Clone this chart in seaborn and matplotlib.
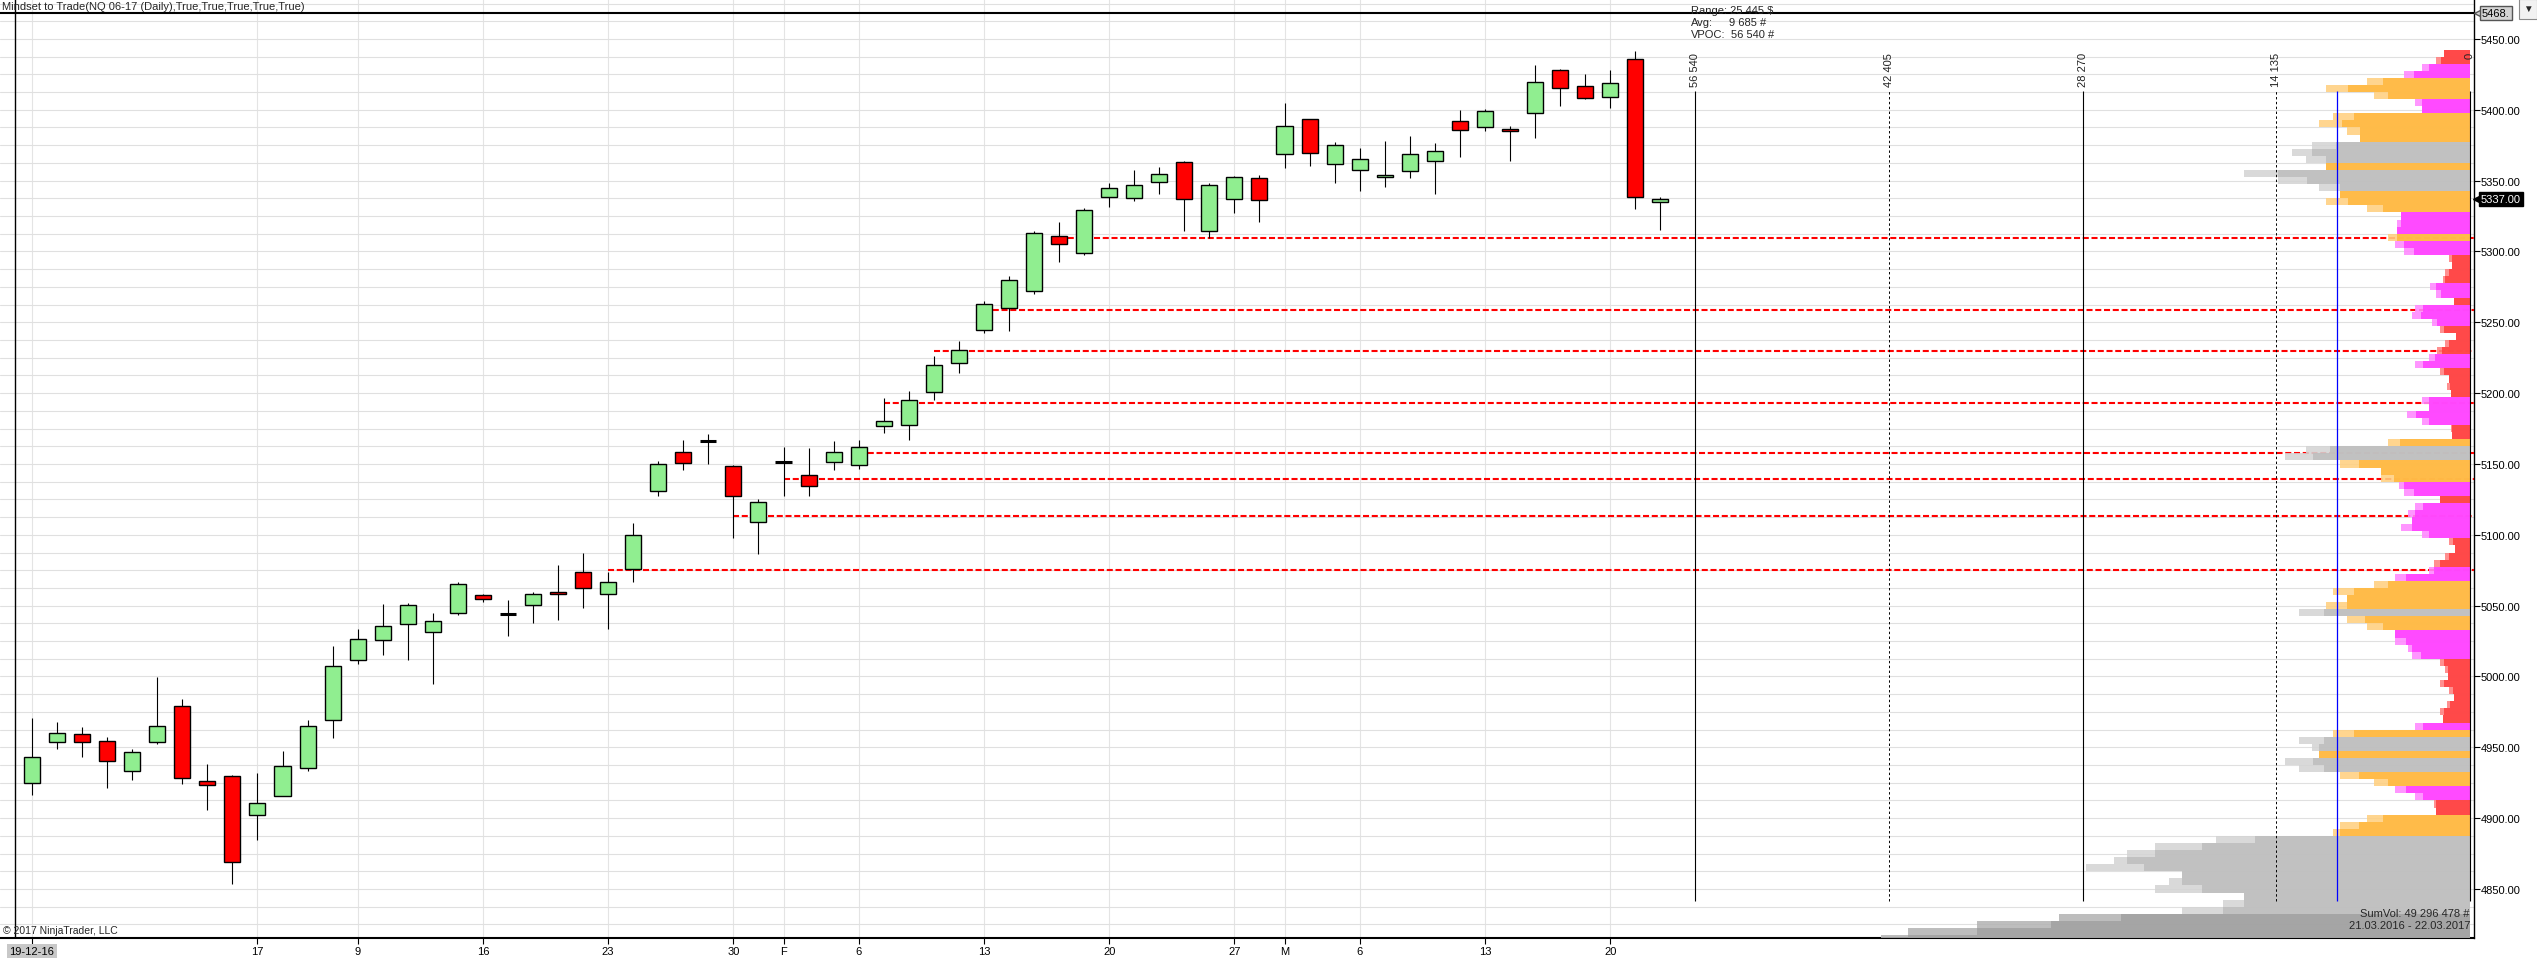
import numpy as np
import pandas as pd
import matplotlib
matplotlib.use('Agg')
import matplotlib.pyplot as plt
from matplotlib.ticker import MultipleLocator, FormatStrFormatter
from matplotlib.patches import Rectangle
import seaborn as sns

# ---------------- data ----------------
# daily session dates (no bar on the two holidays)
skip_days = ['2016-12-26', '2017-01-02']
dates = pd.bdate_range('2016-12-19', '2017-03-22').drop(pd.to_datetime(skip_days))

opens = [4925.0, 4953.9, 4959.6, 4954.6, 4933.5, 4953.9, 4979.3, 4926.4, 4930.0, 4902.5,
         4915.9, 4935.6, 4969.4, 5011.7, 5025.8, 5037.1, 5031.5, 5044.5, 5057.2, 5044.1,
         5050.6, 5059.3, 5073.4, 5057.9, 5076.2, 5131.1, 5158.5, 5166.0, 5148.6, 5109.2,
         5151.2, 5142.3, 5151.5, 5149.3, 5176.6, 5177.3, 5200.5, 5221.6, 5244.9, 5260.3,
         5272.3, 5311.0, 5299.0, 5338.4, 5337.7, 5349.0, 5363.0, 5314.5, 5337.0, 5351.8,
         5369.1, 5393.7, 5361.4, 5357.8, 5352.9, 5357.1, 5364.2, 5392.3, 5388.1, 5386.7,
         5397.9, 5428.2, 5416.9, 5409.2, 5435.9, 5334.6]
highs = [4970.4, 4967.6, 4964.0, 4957.0, 4948.5, 4999.3, 4983.8, 4938.0, 4930.7, 4931.6,
         4947.1, 4969.0, 5021.8, 5033.8, 5051.5, 5052.2, 5045.1, 5067.0, 5058.1, 5053.9,
         5059.5, 5078.5, 5087.0, 5073.4, 5108.1, 5152.4, 5167.2, 5171.4, 5149.3, 5125.0,
         5162.2, 5161.5, 5166.5, 5167.2, 5196.5, 5201.2, 5226.0, 5236.6, 5265.3, 5282.4,
         5314.7, 5321.1, 5330.7, 5348.5, 5357.6, 5359.8, 5364.0, 5348.5, 5353.2, 5354.1,
         5404.7, 5393.7, 5377.5, 5373.3, 5378.2, 5381.8, 5376.8, 5399.6, 5400.3, 5388.8,
         5431.9, 5428.9, 5425.6, 5428.4, 5441.8, 5338.1]
lows = [4916.3, 4948.8, 4943.1, 4921.3, 4926.9, 4952.3, 4924.1, 4905.6, 4853.6, 4884.6,
        4915.9, 4933.3, 4956.5, 5008.7, 5015.0, 5011.7, 4994.5, 5043.6, 5052.7, 5028.8,
        5038.0, 5040.1, 5048.5, 5033.7, 5066.8, 5127.3, 5145.6, 5149.8, 5097.8, 5086.5,
        5127.1, 5127.1, 5145.8, 5146.1, 5172.2, 5167.2, 5195.4, 5214.4, 5242.5, 5243.9,
        5270.2, 5292.5, 5297.4, 5331.1, 5335.4, 5340.3, 5314.3, 5309.8, 5326.9, 5320.6,
        5359.0, 5360.4, 5348.5, 5342.8, 5345.6, 5352.0, 5340.7, 5366.8, 5385.0, 5363.9,
        5380.1, 5402.6, 5407.3, 5401.2, 5330.2, 5315.4]
closes = [4943.1, 4960.3, 4953.9, 4940.5, 4946.9, 4965.2, 4928.6, 4923.6, 4869.3, 4910.9,
          4937.0, 4965.2, 5007.5, 5026.5, 5035.7, 5050.5, 5039.0, 5065.6, 5054.4, 5044.1,
          5057.9, 5057.9, 5062.8, 5067.0, 5100.1, 5150.1, 5150.8, 5166.0, 5127.5, 5123.3,
          5151.2, 5134.6, 5158.5, 5162.0, 5180.1, 5195.4, 5219.8, 5230.5, 5263.1, 5280.0,
          5313.1, 5305.4, 5329.3, 5344.7, 5346.9, 5354.6, 5337.0, 5346.9, 5352.5, 5336.3,
          5388.8, 5369.8, 5375.4, 5365.6, 5354.3, 5369.1, 5371.2, 5386.0, 5399.3, 5385.3,
          5419.7, 5415.5, 5408.5, 5419.0, 5338.1, 5337.0]

tick_dates = ['2016-12-19', '2017-01-03', '2017-01-09', '2017-01-16', '2017-01-23',
              '2017-01-30', '2017-02-01', '2017-02-06', '2017-02-13', '2017-02-20',
              '2017-02-27', '2017-03-01', '2017-03-06', '2017-03-13', '2017-03-20']
tick_labels = ['19-12-16', '17', '9', '16', '23', '30', 'F', '6', '13', '20',
               '27', 'M', '6', '13', '20']

# open gap levels (red dashed) and the bar each one starts from
gap_levels = [5075.0, 5113.5, 5139.5, 5157.75, 5192.75, 5229.5, 5258.5, 5309.25]
gap_start_dates = ['2017-01-23', '2017-01-30', '2017-02-01', '2017-02-06',
                   '2017-02-07', '2017-02-09', '2017-02-13', '2017-02-16']

# volume profile, 5 point rows from 5440 down to 4815
prof_top = 5440
prof_step = 5
prof_vol = [1900, 2500, 3500, 4800, 7500, 10500, 7000, 4000, 3500, 10000,
            11000, 9000, 8000, 11500, 13000, 12000, 10500, 16500, 14000, 11000,
            9500, 10500, 7500, 5000, 5300, 5300, 6000, 5500, 4800, 1500,
            1300, 1800, 2000, 2900, 2500, 1200, 4000, 4200, 2800, 2200,
            1000, 1800, 2400, 3000, 4000, 2200, 1500, 1700, 1400, 3500,
            3000, 4600, 3500, 1400, 1300, 6000, 12000, 13500, 9500, 6500,
            6500, 5200, 4800, 2200, 4000, 4500, 4200, 5000, 3500, 1500,
            1100, 1800, 2600, 3000, 5500, 7000, 10000, 9000, 10500, 12500,
            9000, 7500, 5500, 5500, 4500, 4200, 2200, 1800, 1600, 2200,
            1500, 1200, 1700, 2200, 2000, 4000, 10000, 12500, 11500, 11000,
            13500, 12500, 9500, 7000, 5500, 4000, 2600, 2500, 7500, 9500,
            10000, 18500, 23000, 25000, 26000, 28000, 21000, 22000, 23000, 16500,
            18000, 21000, 30000, 36000, 41000, 43000]
prof_zone = list('RRMMOOOMMO' 'OOOGGGOGGG' 'OOOMMMOMMR' 'RRRMMRMMMR'
                 'RRRMMRRRRM' 'MMMRROGGOO' 'OMMRMMMMMR' 'RRRMMOOOOG'
                 'OOMMMMRRRR' 'RRRRRMOGGO' 'GGOOMMRROO' 'OGGGGGGGGG'
                 'GGDDDD')

scale_vals = [56540, 42405, 28270, 14135, 0]
scale_labels = ['56 540', '42 405', '28 270', '14 135', '0']
avg_vol = 9685
last_price = 5337.00
top_line = 5468.5

# ---------------- figure ----------------
sns.set_theme(style='white')
plt.rcParams['font.family'] = ['Liberation Sans', 'DejaVu Sans']

W, H = 2537, 962
fig = plt.figure(figsize=(W / 100, H / 100), dpi=100)
ax = fig.add_axes([0, 23 / H, 2474 / W, 939 / H])

px_per_bar = 25.05
first_px = 32
ax.set_xlim(-first_px / px_per_bar, (2474 - first_px) / px_per_bar)
ylo, yhi = 4815.4, 5478.2
ax.set_ylim(ylo, yhi)

# grid and axes
ax.yaxis.tick_right()
ax.yaxis.set_major_locator(MultipleLocator(50))
ax.yaxis.set_minor_locator(MultipleLocator(12.5))
ax.yaxis.set_major_formatter(FormatStrFormatter('%.2f'))
ax.grid(True, which='both', axis='y', color='#e0e0e0', lw=0.8, zorder=0)
ax.tick_params(axis='y', which='minor', length=0, right=False)
ax.tick_params(axis='y', which='major', right=True, length=4, width=0.8,
               color='black', pad=1, labelsize=8, labelcolor='black')

xpos = [dates.get_loc(pd.Timestamp(d)) for d in tick_dates]
ax.set_xticks(xpos)
ax.set_xticklabels(tick_labels)
ax.grid(True, axis='x', color='#e4e4e4', lw=0.8)
ax.tick_params(axis='x', bottom=True, length=4, width=0.8, color='black',
               pad=2, labelsize=8, labelcolor='black')
ax.get_xticklabels()[0].set_bbox(dict(fc='#c8c8c8', ec='none', pad=1.5))
ax.set_axisbelow(True)

for side in ['left', 'top']:
    ax.spines[side].set_visible(False)
ax.spines['right'].set_color('black')
ax.spines['right'].set_linewidth(1.0)
ax.spines['bottom'].set_color('black')
ax.spines['bottom'].set_linewidth(1.5)

# lines behind the candles
ax.axhline(top_line, color='black', lw=1.5, zorder=3)
ax.axvline((15 - first_px) / px_per_bar, color='black', lw=1.0, zorder=3)
gx = [dates.get_loc(pd.Timestamp(d)) for d in gap_start_dates]
ax.hlines(gap_levels, gx, ax.get_xlim()[1], colors='red',
          linestyles=[(0, (2.9, 1.3))], lw=1.5, zorder=3)

# candles
x = np.arange(len(dates))
o = np.array(opens)
c = np.array(closes)
h = np.array(highs)
l = np.array(lows)
flat = o == c
ax.vlines(x, l, h, color='black', lw=0.8, zorder=4)
body_col = np.where(c > o, '#90ee90', '#ff0000')
ax.bar(x[~flat], np.abs(c - o)[~flat], bottom=np.minimum(o, c)[~flat], width=0.64,
       color=body_col[~flat], edgecolor='black', lw=1.0, zorder=5)
ax.hlines(o[flat], x[flat] - 0.32, x[flat] + 0.32, color='black', lw=2.2, zorder=5)

# ---------------- volume profile (right side) ----------------
vol_per_px = 72.97
ax2 = ax.twiny()
ax2.set_xlim(2470 * vol_per_px, -4 * vol_per_px)

prof = pd.DataFrame({'vol': prof_vol, 'zone': prof_zone})
prof['price'] = prof_top - prof_step * np.arange(len(prof))
v = prof['vol'].to_numpy(float)
nb_min = np.minimum(np.minimum(v, np.r_[v[1:], v[-1]]), np.r_[v[0], v[:-1]])
prof['core'] = np.maximum(nb_min, 0.85 * v)

light_pal = {'R': '#ff8080', 'M': '#ff88ff', 'O': '#ffd080', 'G': '#d4d4d4', 'D': '#b4b4b4'}
dark_pal = {'R': '#ff4040', 'M': '#ff40ff', 'O': '#ffb840', 'G': '#bebebe', 'D': '#a2a2a2'}
for col, pal in [('vol', light_pal), ('core', dark_pal)]:
    sns.barplot(data=prof, x=col, y='price', hue='zone', palette=pal, orient='h',
                native_scale=True, width=1, saturation=1, errorbar=None,
                legend=False, linewidth=0, alpha=0.88, ax=ax2)
ax2.set_xlim(2470 * vol_per_px, -4 * vol_per_px)
ax.set_ylim(ylo, yhi)
ax2.set_axis_off()

line_lo, line_hi = 4841.5, 5413.3
ax2.vlines([scale_vals[0], scale_vals[2], scale_vals[4]], line_lo, line_hi,
           color='black', lw=0.8, zorder=6)
ax2.vlines([scale_vals[1], scale_vals[3]], line_lo, line_hi, color='black',
           lw=0.7, linestyles=[(0, (2.5, 2.5))], zorder=6)
ax2.vlines(avg_vol, line_lo, line_hi, color='blue', lw=0.9, zorder=6)
for sv, lab in zip(scale_vals, scale_labels):
    ax2.text(sv, 5440.8, lab, rotation=90, ha='center', va='top', fontsize=8,
             color='#222222', zorder=7)


# ---------------- texts ----------------
def ftext(px, py, s, **kw):
    return fig.text(px / W, 1 - py / H, s, **kw)


ftext(2, 7.5, 'Mindset to Trade(NQ 06-17 (Daily),True,True,True,True,True)',
      va='center', ha='left', fontsize=8)
ftext(1691, 11, 'Range: 25 445 $', va='center', fontsize=8)
ftext(1691, 23, 'Avg:', va='center', fontsize=8)
ftext(1729, 23, '9 685 #', va='center', fontsize=8)
ftext(1691, 35, 'VPOC:', va='center', fontsize=8)
ftext(1731, 35, '56 540 #', va='center', fontsize=8)
ftext(3, 931, '\u00a9 2017 NinjaTrader, LLC', va='center', fontsize=7.5)
ftext(2470, 914, 'SumVol: 49 296 478 #', va='center', ha='right', fontsize=8, zorder=10)
ftext(2470, 926, '21.03.2016 - 22.03.2017', va='center', ha='right', fontsize=8, zorder=10)

# last price and top line markers on the price scale
y_last = ax.transData.transform((0, last_price))[1]
y_top = ax.transData.transform((0, top_line))[1]
fig.text(2481 / W, y_last / H, '%.2f' % last_price, color='white', fontsize=8,
         va='center', ha='left', bbox=dict(boxstyle='square,pad=0.2', fc='black', ec='black'))
fig.lines.append(plt.Line2D([2477 / W], [y_last / H], marker='<', ms=6, color='black',
                            transform=fig.transFigure))
fig.text(2482 / W, y_top / H, '5468.', color='black', fontsize=8, va='center', ha='left',
         bbox=dict(boxstyle='square,pad=0.2', fc='#d3d3d3', ec='#555555'))
fig.lines.append(plt.Line2D([2478 / W], [y_top / H], marker='<', ms=6, color='#d3d3d3',
                            mec='#555555', transform=fig.transFigure))
fig.patches.append(Rectangle((2519 / W, 1 - 20 / H), 18 / W, 20 / H, fc='#f2f2f2',
                             ec='#8a8a8a', lw=0.8, transform=fig.transFigure, zorder=20))
fig.text(2528 / W, 1 - 9 / H, '\u25bc', fontsize=7, ha='center', va='center', zorder=21)

fig.savefig('out.png', dpi=100)
